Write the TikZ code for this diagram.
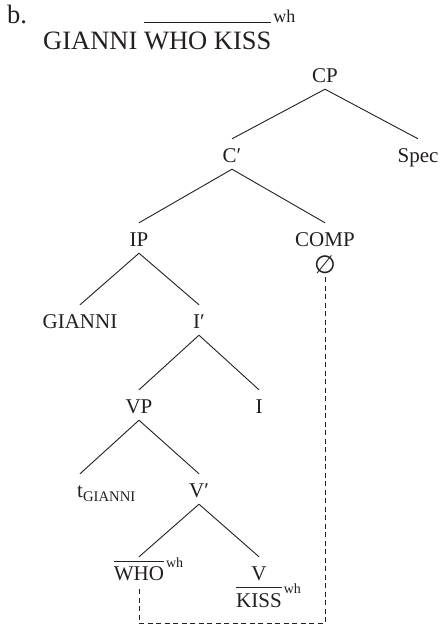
\documentclass[tikz,border=0pt]{standalone}
\usepackage{fontspec}
\setmainfont{Liberation Serif}
\newfontfamily\symfont{DejaVu Sans}
\newcommand{\ovl}[3]{\setbox0\hbox{#1}\rlap{\raisebox{#2}{\rule{\wd0}{#3}}}\box0}
\definecolor{ink}{HTML}{231F20}
\tikzset{
  tn/.style={font=\fontsize{21pt}{24pt}\selectfont, text=ink, inner sep=0pt,
             text height=23pt, text depth=7pt, anchor=base},
  big/.style={font=\fontsize{26.5pt}{30pt}\selectfont, text=ink, inner sep=0pt, anchor=base west},
  edge/.style={draw=ink, line width=0.9pt},
  trace/.style={draw=ink, line width=0.9pt, dash pattern=on 5pt off 3.5pt},
}
\begin{document}
\begin{tikzpicture}[x=1pt,y=-1pt]
\useasboundingbox (0,0) rectangle (439,634);
% heading
\node[big] (lab) at (7,24) {b.};
\node[big] (head) at (43,50) {GIANNI \ovl{WHO KISS}{27pt}{0.9pt}\hspace{2pt}\raisebox{27pt}{\fontsize{18pt}{18pt}\selectfont wh}};
% tree nodes
\node[tn] (cp) at (325,82) {CP};
\node[tn] (cbar) at (232,162) {C′};
\node[tn] (spec) at (418,162) {Spec};
\node[tn] (ip) at (139,246) {IP};
\node[tn] (comp) at (325,246) {COMP};
\node[inner sep=0pt, text=ink, font=\symfont\fontsize{25pt}{26pt}\selectfont] (emp) at (325,264.5) {∅};
\node[tn] (gianni) at (80,328) {GIANNI};
\node[tn] (ibar) at (199,328) {I′};
\node[tn] (vp) at (139,413) {VP};
\node[tn] (i) at (259,413) {I};
\node[tn, anchor=base west] (tg) at (77,497) {t\raisebox{-4pt}{\fontsize{14.7pt}{15pt}\selectfont GIANNI}};
\node[tn] (vbar) at (199,497) {V′};
\node[tn] (who) at (139,580) {\ovl{WHO}{18pt}{0.9pt}\rlap{\hspace{2pt}\raisebox{13pt}{\fontsize{14pt}{14pt}\selectfont wh}}};
\node[tn] (v) at (259,580) {V};
\node[tn] (kiss) at (259,607) {\ovl{KISS}{19pt}{0.9pt}\rlap{\hspace{2pt}\raisebox{14pt}{\fontsize{14pt}{14pt}\selectfont wh}}};
% branches
\draw[edge] (cp.south) -- (cbar.north);
\draw[edge] (cp.south) -- (spec.north);
\draw[edge] (cbar.south) -- (ip.north);
\draw[edge] (cbar.south) -- (comp.north);
\draw[edge] (ip.south) -- (gianni.north);
\draw[edge] (ip.south) -- (ibar.north);
\draw[edge] (ibar.south) -- (vp.north);
\draw[edge] (ibar.south) -- (i.north);
\draw[edge] (vp.south) -- ([xshift=3pt]tg.north west);
\draw[edge] (vp.south) -- (vbar.north);
\draw[edge] (vbar.south) -- (who.north);
\draw[edge] (vbar.south) -- (v.north);
% movement trace
\draw[trace] ([yshift=-12.5pt]emp.center) -- ++(0,346) -| (who.south);
\end{tikzpicture}
\end{document}
